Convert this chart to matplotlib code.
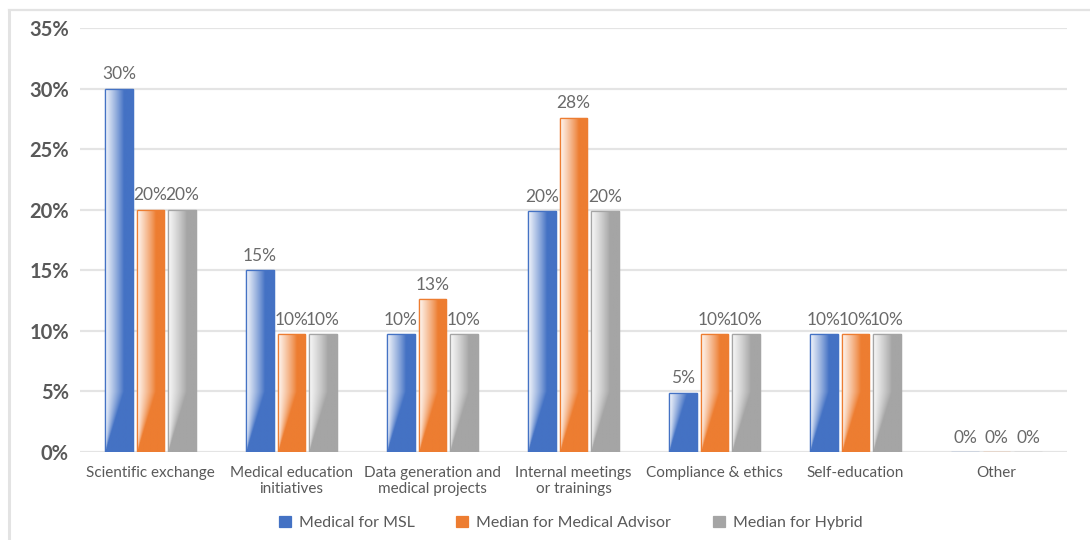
import numpy as np
import matplotlib.pyplot as plt
from matplotlib.colors import to_rgb
from matplotlib.lines import Line2D

# activity shares by role
categories = [
    "Scientific exchange",
    "Medical education\ninitiatives",
    "Data generation and\nmedical projects",
    "Internal meetings\nor trainings",
    "Compliance & ethics",
    "Self-education",
    "Other",
]
msl = [0.300, 0.150, 0.097, 0.199, 0.049, 0.097, 0.0]
advisor = [0.200, 0.097, 0.126, 0.276, 0.097, 0.097, 0.0]
hybrid = [0.200, 0.097, 0.097, 0.199, 0.097, 0.097, 0.0]

series = [
    ("Medical for MSL", msl, "#4472C4"),
    ("Median for Medical Advisor", advisor, "#ED7D31"),
    ("Median for Hybrid", hybrid, "#A5A5A5"),
]

TEXT = "#595959"
FONT = ["Lato", "DejaVu Sans"]
plt.rcParams["font.family"] = FONT

fig = plt.figure(figsize=(10.9, 5.4), dpi=100)
ax = fig.add_axes([80 / 1090, 88 / 540, 987 / 1090, 424 / 540])

# light frame around the chart area
fig.add_artist(Line2D([9 / 1090, 9 / 1090], [0, 1 - 10 / 540],
                      transform=fig.transFigure, color="#e3e3e3", lw=2.2))
fig.add_artist(Line2D([9 / 1090, 1], [1 - 10 / 540, 1 - 10 / 540],
                      transform=fig.transFigure, color="#e3e3e3", lw=1.6))

ymax = 0.35
ax.set_xlim(-0.5, 6.5)
ax.set_ylim(0, ymax)
px_per_y = 424 / ymax

x = np.arange(len(categories))
offset = 0.223
width = 0.195


def gradient_fill(patch, color):
    x0, y0 = patch.get_x(), patch.get_y()
    w, h = patch.get_width(), patch.get_height()
    if h <= 0:
        return
    hpx = h * px_per_y
    ny, nx = max(int(hpx), 2), 40
    u = np.linspace(0, 1, nx)[None, :]
    vpx = np.linspace(0, hpx, ny)[:, None]
    # white sheen on the left, narrowing towards the base
    f = np.clip(vpx / 60.0, 0.02, 1.0)
    wht = np.clip(1 - u / (0.68 * f), 0, 1) ** 0.9 * 0.93
    c = np.array(to_rgb(color))
    img = wht[..., None] * 1.0 + (1 - wht[..., None]) * c[None, None, :]
    im = ax.imshow(img, origin="lower", extent=[x0, x0 + w, y0, y0 + h],
                   aspect="auto", interpolation="bilinear", zorder=2.5)
    im.set_clip_path(patch)


for i, (name, vals, color) in enumerate(series):
    bars = ax.bar(x + (i - 1) * offset, vals, width, color=color,
                  edgecolor=color, linewidth=0.9, label=name, zorder=2)
    for b, v in zip(bars, vals):
        gradient_fill(b, color)
        ax.annotate(f"{v * 100:.0f}%", (b.get_x() + b.get_width() / 2, v),
                    xytext=(0, 4.5), textcoords="offset points",
                    ha="center", va="bottom", fontsize=12.5, color="#6a6a6a")
    # edge outline above the gradient
    for b in bars:
        if b.get_height() > 0:
            ax.add_patch(plt.Rectangle((b.get_x(), b.get_y()), b.get_width(),
                                       b.get_height(), fill=False,
                                       edgecolor=color, lw=0.9, zorder=3))

ax.set_yticks(np.arange(0, 0.351, 0.05))
ax.set_yticklabels([f"{t}%" for t in range(0, 36, 5)],
                   fontsize=14.5, fontweight="bold", color=TEXT)
ax.set_xticks(x)
ax.set_xticklabels(categories, fontsize=11, color=TEXT, linespacing=1.2)
ax.tick_params(axis="both", length=0)
ax.tick_params(axis="y", pad=8)
ax.tick_params(axis="x", pad=10)

ax.grid(axis="y", color="#e4e4e4", lw=1.6, zorder=0)
ax.set_axisbelow(True)
for s in ax.spines.values():
    s.set_visible(False)

ax.legend(loc="center", bbox_to_anchor=(0.497, -0.167), ncol=3, frameon=False,
          fontsize=11.5, labelcolor=TEXT, handlelength=0.75, handleheight=0.75,
          handletextpad=0.5, columnspacing=2.6)

fig.savefig("out.png", dpi=100)
